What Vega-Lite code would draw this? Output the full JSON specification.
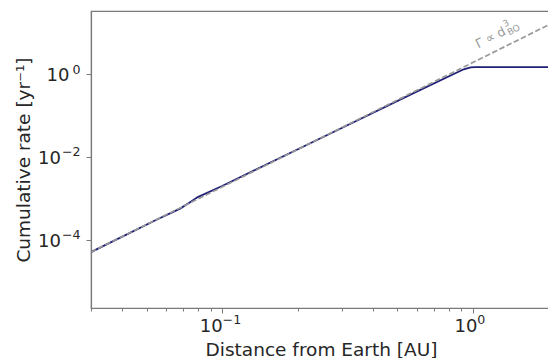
{
  "$schema": "https://vega.github.io/schema/vega-lite/v6.json",
  "width": 460,
  "height": 297,
  "autosize": "none",
  "padding": {"left": 91, "top": 11, "right": 0, "bottom": 50},
  "background": "white",
  "config": {
    "view": {"stroke": "#7a7a7a", "strokeWidth": 1.2},
    "font": "DejaVu Sans",
    "text": {"font": "DejaVu Sans", "color": "#262626"},
    "axis": {
      "labelFont": "DejaVu Sans",
      "titleFont": "DejaVu Sans",
      "titleFontSize": 18.5,
      "titleFontWeight": "normal",
      "titleColor": "#262626",
      "domainColor": "#7a7a7a",
      "domainWidth": 1.2,
      "tickColor": "#7a7a7a",
      "tickWidth": 1,
      "labels": false,
      "grid": false
    }
  },
  "datasets": {
    "rate": [
      {"d": 0.03, "r": 5.1e-5},
      {"d": 0.04, "r": 1.2e-4},
      {"d": 0.055, "r": 3.1e-4},
      {"d": 0.068, "r": 5.7e-4},
      {"d": 0.074, "r": 7.9e-4},
      {"d": 0.08, "r": 1.08e-3},
      {"d": 0.1, "r": 2.0e-3},
      {"d": 0.3, "r": 5.0e-2},
      {"d": 0.6, "r": 0.38},
      {"d": 0.92, "r": 1.3},
      {"d": 0.98, "r": 1.45},
      {"d": 1.02, "r": 1.47},
      {"d": 2.05, "r": 1.47}
    ],
    "fit": [
      {"d": 0.03, "r": 5.1e-5},
      {"d": 2.05, "r": 16.3}
    ],
    "label": [
      {"d": 1.05, "r": 4.1, "main": "Γ ∝ d", "sup": "3", "sub": "BO"}
    ],
    "xticks": [
      {"v": 0.1, "base": "10", "exp": "−1"},
      {"v": 1, "base": "10", "exp": "0"}
    ],
    "yticks": [
      {"v": 1, "base": "10", "exp": "0"},
      {"v": 0.01, "base": "10", "exp": "−2"},
      {"v": 0.0001, "base": "10", "exp": "−4"}
    ]
  },
  "layer": [
    {
      "data": {"name": "rate"},
      "mark": {"type": "line", "color": "#1f1f78", "strokeWidth": 1.8, "clip": true},
      "encoding": {
        "x": {
          "field": "d", "type": "quantitative",
          "scale": {"type": "log", "domain": [0.03, 2.05], "nice": false},
          "axis": {
            "title": "Distance from Earth [AU]",
            "values": [0.03, 0.04, 0.05, 0.06, 0.07, 0.08, 0.09, 0.1, 0.2, 0.3, 0.4, 0.5, 0.6, 0.7, 0.8, 0.9, 1, 2],
            "tickSize": {"condition": {"test": "datum.value == 0.1 || datum.value == 1", "value": 5}, "value": 3},
            "titleBaseline": "alphabetic",
            "titleY": 47,
            "titleX": 230
          }
        },
        "y": {
          "field": "r", "type": "quantitative",
          "scale": {"type": "log", "domain": [2.29e-6, 33], "nice": false},
          "axis": {
            "title": "Cumulative rate [yr⁻¹]",
            "values": [0.0001, 0.01, 1],
            "tickSize": 5,
            "titleBaseline": "alphabetic",
            "titleX": -62,
            "titleY": 148.5
          }
        }
      }
    },
    {
      "data": {"name": "fit"},
      "mark": {"type": "line", "color": "#999999", "strokeWidth": 1.7, "strokeDash": [5.5, 2.5], "clip": true},
      "encoding": {
        "x": {"field": "d", "type": "quantitative"},
        "y": {"field": "r", "type": "quantitative"}
      }
    },
    {
      "data": {"name": "label"},
      "mark": {"type": "text", "color": "#999999", "fontSize": 12.5, "angle": 333, "align": "left", "baseline": "alphabetic"},
      "encoding": {
        "x": {"field": "d", "type": "quantitative"},
        "y": {"field": "r", "type": "quantitative"},
        "text": {"field": "main"}
      }
    },
    {
      "data": {"name": "label"},
      "mark": {"type": "text", "color": "#999999", "fontSize": 9, "angle": 333, "align": "left", "baseline": "alphabetic", "dx": 33.5, "dy": -7},
      "encoding": {
        "x": {"field": "d", "type": "quantitative"},
        "y": {"field": "r", "type": "quantitative"},
        "text": {"field": "sup"}
      }
    },
    {
      "data": {"name": "label"},
      "mark": {"type": "text", "color": "#999999", "fontSize": 9, "angle": 333, "align": "left", "baseline": "alphabetic", "dx": 33.5, "dy": 2.5},
      "encoding": {
        "x": {"field": "d", "type": "quantitative"},
        "y": {"field": "r", "type": "quantitative"},
        "text": {"field": "sub"}
      }
    },
    {
      "data": {"name": "xticks"},
      "transform": [{"filter": "datum.v == 0.1"}],
      "mark": {"type": "text", "fontSize": 18, "align": "right", "baseline": "alphabetic", "dx": 0.5, "dy": 23.7},
      "encoding": {
        "x": {"field": "v", "type": "quantitative"},
        "y": {"datum": 2.29e-6, "type": "quantitative"},
        "text": {"field": "base"}
      }
    },
    {
      "data": {"name": "xticks"},
      "transform": [{"filter": "datum.v == 0.1"}],
      "mark": {"type": "text", "fontSize": 12.6, "align": "left", "baseline": "alphabetic", "dx": 0.5, "dy": 16},
      "encoding": {
        "x": {"field": "v", "type": "quantitative"},
        "y": {"datum": 2.29e-6, "type": "quantitative"},
        "text": {"field": "exp"}
      }
    },
    {
      "data": {"name": "xticks"},
      "transform": [{"filter": "datum.v == 1"}],
      "mark": {"type": "text", "fontSize": 18, "align": "right", "baseline": "alphabetic", "dx": 4.5, "dy": 23.7},
      "encoding": {
        "x": {"field": "v", "type": "quantitative"},
        "y": {"datum": 2.29e-6, "type": "quantitative"},
        "text": {"field": "base"}
      }
    },
    {
      "data": {"name": "xticks"},
      "transform": [{"filter": "datum.v == 1"}],
      "mark": {"type": "text", "fontSize": 12.6, "align": "left", "baseline": "alphabetic", "dx": 4.5, "dy": 16},
      "encoding": {
        "x": {"field": "v", "type": "quantitative"},
        "y": {"datum": 2.29e-6, "type": "quantitative"},
        "text": {"field": "exp"}
      }
    },
    {
      "data": {"name": "yticks"},
      "mark": {"type": "text", "fontSize": 12.6, "align": "right", "baseline": "alphabetic", "dx": -10.5, "dy": -0.5},
      "encoding": {
        "y": {"field": "v", "type": "quantitative"},
        "x": {"datum": 0.03, "type": "quantitative"},
        "text": {"field": "exp"}
      }
    },
    {
      "data": {"name": "yticks"},
      "transform": [{"filter": "datum.v == 1"}],
      "mark": {"type": "text", "fontSize": 18, "align": "right", "baseline": "alphabetic", "dx": -21.5, "dy": 6.7},
      "encoding": {
        "y": {"field": "v", "type": "quantitative"},
        "x": {"datum": 0.03, "type": "quantitative"},
        "text": {"field": "base"}
      }
    },
    {
      "data": {"name": "yticks"},
      "transform": [{"filter": "datum.v != 1"}],
      "mark": {"type": "text", "fontSize": 18, "align": "right", "baseline": "alphabetic", "dx": -30, "dy": 6.7},
      "encoding": {
        "y": {"field": "v", "type": "quantitative"},
        "x": {"datum": 0.03, "type": "quantitative"},
        "text": {"field": "base"}
      }
    }
  ]
}
